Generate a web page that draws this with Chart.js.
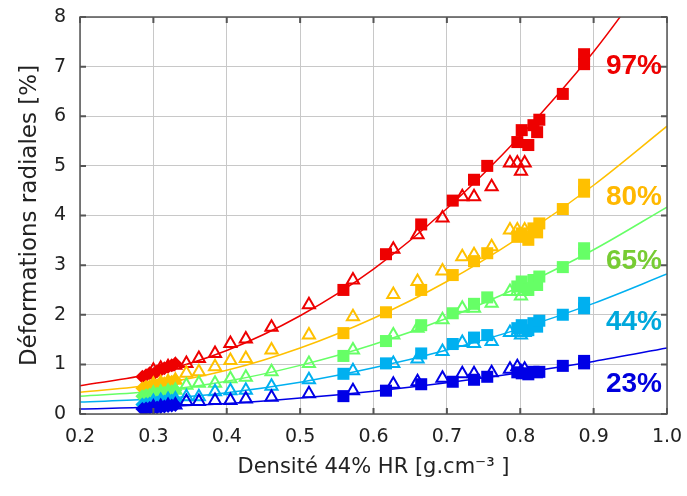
<!DOCTYPE html>
<html>
<head>
<meta charset="utf-8">
<script src="https://cdn.jsdelivr.net/npm/chart.js@4.4.1/dist/chart.umd.min.js"></script>
<style>
  body { margin: 0; background: #fff; }
  #contenedor { width: 687px; height: 496px; }
</style>
</head>
<body>
<div id="contenedor"><canvas id="graficoDeformaciones"></canvas></div>
<script>
// Humedades relativas (etiquetas a la derecha)
const humedades = ['23%', '44%', '65%', '80%', '97%'];

// Densidades de las muestras
const xCuadrados = [0.559, 0.617, 0.665, 0.708, 0.737, 0.755, 0.796, 0.802, 0.811, 0.818, 0.823, 0.826, 0.858, 0.887, 0.887];
const xTriangulos = [0.300, 0.310, 0.320, 0.330, 0.345, 0.362, 0.384, 0.405, 0.426, 0.461, 0.512, 0.572, 0.627, 0.660, 0.694, 0.721, 0.737, 0.761, 0.786, 0.796, 0.806, 0.801];
const xRombos = [0.285, 0.290, 0.295, 0.300, 0.305, 0.310, 0.315, 0.320, 0.325, 0.330];
const xAjuste = [0.2, 0.3, 0.4, 0.5, 0.6, 0.7, 0.8, 0.9, 1.0];

// Deformaciones radiales [%] - cuadrados llenos
const cuadrados23 = [0.36, 0.47, 0.60, 0.65, 0.69, 0.75, 0.84, 0.82, 0.80, 0.85, 0.84, 0.85, 0.97, 1.02, 1.07];
const cuadrados44 = [0.81, 1.02, 1.22, 1.41, 1.54, 1.59, 1.73, 1.79, 1.69, 1.83, 1.76, 1.88, 2.00, 2.13, 2.24];
const cuadrados65 = [1.17, 1.47, 1.79, 2.03, 2.22, 2.35, 2.57, 2.67, 2.50, 2.70, 2.60, 2.77, 2.96, 3.23, 3.34];
const cuadrados80 = [1.63, 2.05, 2.50, 2.80, 3.08, 3.24, 3.57, 3.64, 3.51, 3.74, 3.66, 3.84, 4.13, 4.48, 4.62];
const cuadrados97 = [2.50, 3.22, 3.82, 4.30, 4.72, 5.00, 5.48, 5.72, 5.42, 5.82, 5.68, 5.93, 6.45, 7.05, 7.25];

// Triangulos vacios
const triangulos23 = [0.14, 0.15, 0.17, 0.18, 0.25, 0.25, 0.27, 0.27, 0.30, 0.34, 0.41, 0.47, 0.60, 0.65, 0.72, 0.81, 0.81, 0.83, 0.90, 0.95, 0.90, 0.85];
const triangulos44 = [0.25, 0.27, 0.29, 0.30, 0.35, 0.35, 0.45, 0.47, 0.48, 0.56, 0.69, 0.87, 1.02, 1.11, 1.26, 1.44, 1.42, 1.46, 1.64, 1.64, 1.64, 1.59];
const triangulos65 = [0.42, 0.44, 0.46, 0.48, 0.58, 0.62, 0.62, 0.71, 0.74, 0.85, 1.02, 1.29, 1.59, 1.73, 1.90, 2.13, 2.13, 2.23, 2.47, 2.47, 2.47, 2.38];
const triangulos80 = [0.60, 0.63, 0.65, 0.68, 0.82, 0.85, 0.95, 1.08, 1.12, 1.29, 1.59, 1.96, 2.41, 2.67, 2.88, 3.17, 3.21, 3.37, 3.71, 3.71, 3.71, 3.59];
const triangulos97 = [0.88, 0.92, 0.95, 0.98, 1.02, 1.12, 1.22, 1.42, 1.51, 1.75, 2.20, 2.70, 3.32, 3.61, 3.95, 4.38, 4.38, 4.58, 5.06, 5.06, 5.06, 4.89];

// Rombos llenos (muestras de baja densidad)
const rombos23 = [0.10, 0.11, 0.12, 0.12, 0.13, 0.14, 0.15, 0.16, 0.17, 0.18];
const rombos44 = [0.19, 0.20, 0.21, 0.22, 0.23, 0.24, 0.25, 0.26, 0.27, 0.28];
const rombos65 = [0.36, 0.38, 0.39, 0.40, 0.41, 0.42, 0.43, 0.45, 0.46, 0.48];
const rombos80 = [0.52, 0.55, 0.56, 0.58, 0.58, 0.60, 0.62, 0.63, 0.65, 0.68];
const rombos97 = [0.75, 0.78, 0.82, 0.80, 0.86, 0.88, 0.92, 0.95, 0.98, 1.02];

// Curvas de ajuste
const ajuste23 = [0.10, 0.14, 0.21, 0.32, 0.46, 0.63, 0.83, 1.06, 1.33];
const ajuste44 = [0.24, 0.30, 0.43, 0.64, 0.93, 1.29, 1.72, 2.23, 2.82];
const ajuste65 = [0.36, 0.46, 0.66, 0.98, 1.40, 1.93, 2.57, 3.31, 4.17];
const ajuste80 = [0.44, 0.59, 0.88, 1.33, 1.93, 2.67, 3.57, 4.61, 5.80];
const ajuste97 = [0.57, 0.82, 1.28, 1.98, 2.92, 4.14, 5.60, 7.30, 9.30];

const coloresSerie = ['#0000e6', '#00b0f0', '#66ff66', '#ffc000', '#ee0000'];
const coloresEtiqueta = ['#0000dd', '#00a8dc', '#77cc33', '#ffb800', '#ee0000'];
const posEtiqueta = [0.60, 1.84, 3.07, 4.36, 7.01];

const series = [
    { cuad: cuadrados23, tri: triangulos23, rom: rombos23, aju: ajuste23 },
    { cuad: cuadrados44, tri: triangulos44, rom: rombos44, aju: ajuste44 },
    { cuad: cuadrados65, tri: triangulos65, rom: rombos65, aju: ajuste65 },
    { cuad: cuadrados80, tri: triangulos80, rom: rombos80, aju: ajuste80 },
    { cuad: cuadrados97, tri: triangulos97, rom: rombos97, aju: ajuste97 }
];

const pares = (xs, ys) => xs.map((x, i) => ({ x: x, y: ys[i] }));

const datasets = [];
series.forEach((s, i) => {
    const c = coloresSerie[i];
    datasets.push({
        label: 'ajuste ' + humedades[i], data: pares(xAjuste, s.aju),
        showLine: true, borderColor: c, borderWidth: 1.5, pointRadius: 0,
        tension: 0.4, cubicInterpolationMode: 'monotone', order: 3
    });
    datasets.push({
        label: 'triangulos ' + humedades[i], data: pares(xTriangulos, s.tri),
        pointStyle: 'triangle', pointRadius: 7, borderColor: c, borderWidth: 2,
        backgroundColor: 'rgba(255,255,255,0)', order: 2
    });
    datasets.push({
        label: 'rombos ' + humedades[i], data: pares(xRombos, s.rom),
        pointStyle: 'rectRot', pointRadius: 7, borderColor: c, borderWidth: 0,
        backgroundColor: c, order: 2
    });
    datasets.push({
        label: 'cuadrados ' + humedades[i], data: pares(xCuadrados, s.cuad),
        pointStyle: 'rect', pointRadius: 8.5, borderColor: c, borderWidth: 0,
        backgroundColor: c, order: 1
    });
});

// Marco, marcas hacia dentro y etiquetas de humedad
const marcoPlugin = {
    id: 'marco',
    afterDraw(chart) {
        const ctx = chart.ctx;
        const a = chart.chartArea;
        const ex = chart.scales.x, ey = chart.scales.y;
        ctx.save();
        ctx.strokeStyle = '#555';
        ctx.lineWidth = 2;
        ctx.beginPath();
        ex.ticks.forEach(t => {
            const px = ex.getPixelForValue(t.value);
            ctx.moveTo(px, a.bottom); ctx.lineTo(px, a.bottom - 6);
            ctx.moveTo(px, a.top); ctx.lineTo(px, a.top + 6);
        });
        ey.ticks.forEach(t => {
            const py = ey.getPixelForValue(t.value);
            ctx.moveTo(a.left, py); ctx.lineTo(a.left + 6, py);
            ctx.moveTo(a.right, py); ctx.lineTo(a.right - 6, py);
        });
        ctx.stroke();
        ctx.lineWidth = 1.5;
        ctx.strokeRect(a.left, a.top, a.right - a.left, a.bottom - a.top);

        ctx.font = 'bold 28px "Liberation Sans"';
        ctx.textAlign = 'center';
        ctx.textBaseline = 'middle';
        humedades.forEach((h, i) => {
            ctx.fillStyle = coloresEtiqueta[i];
            ctx.fillText(h, ex.getPixelForValue(0.955), ey.getPixelForValue(posEtiqueta[i]));
        });
        ctx.restore();
    }
};

Chart.defaults.font.family = '"DejaVu Sans"';
Chart.defaults.color = '#222';

const ctxDef = document.getElementById('graficoDeformaciones').getContext('2d');
const graficoDeformaciones = new Chart(ctxDef, {
    type: 'scatter',
    data: { datasets: datasets },
    options: {
        responsive: true,
        maintainAspectRatio: false,
        animation: false,
        layout: { padding: { top: 17, right: 20, left: 0, bottom: 0 } },
        plugins: { legend: { display: false }, tooltip: { enabled: false } },
        scales: {
            x: {
                type: 'linear', min: 0.2, max: 1.0,
                afterFit: s => { s.height = 82; s.paddingLeft = 0; s.paddingRight = 0; },
                border: { display: false },
                grid: { color: '#c8c8c8', borderDash: [2, 4], drawTicks: false },
                ticks: { stepSize: 0.1, padding: 12, font: { size: 19 }, callback: v => v.toFixed(1) },
                title: { display: true, text: 'Densité 44% HR [g.cm⁻³ ]', font: { size: 21 }, padding: { top: 0, bottom: 16 } }
            },
            y: {
                min: 0, max: 8,
                afterFit: s => { s.width = 80; s.paddingTop = 0; s.paddingBottom = 0; },
                border: { display: false },
                grid: { color: '#c8c8c8', borderDash: [2, 4], drawTicks: false },
                ticks: { stepSize: 1, padding: 14, font: { size: 19 } },
                title: { display: true, text: 'Déformations radiales [%]', font: { size: 23 }, padding: { top: 16, bottom: 0 } }
            }
        }
    },
    plugins: [marcoPlugin]
});
</script>
</body>
</html>
